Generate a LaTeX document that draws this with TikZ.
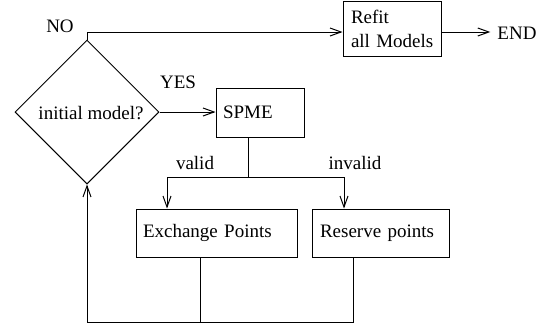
\documentclass[tikz,border=0pt]{standalone}
\usepackage{fontspec}
\setmainfont{Liberation Serif}
\usetikzlibrary{arrows.meta,shapes.geometric}
\begin{document}
\begin{tikzpicture}[x=1pt,y=-1pt,
  every node/.style={font=\fontsize{19}{24}\selectfont},
  line/.style={line width=1pt},
  arr/.style={line width=1pt,-{Straight Barb[length=11pt,width=8pt,line width=1pt]}},
  box/.style={draw,line width=1pt,align=left,inner ysep=0pt,minimum height=#1},
  lbl/.style={inner sep=0pt}]
\useasboundingbox (0,0) rectangle (543,327);
% nodes
\node[draw,line width=1pt,diamond,aspect=1,minimum width=144pt,minimum height=144pt,inner sep=0pt] (d) at (87,112) {};
\node[lbl] (dt) at (91,113) {initial model?};
\node[box=55pt,inner xsep=8pt,text width=82pt] (refit) at (392,29) {Refit\\\mbox{all Models}};
\node[box=49pt,inner xsep=7pt,text width=74pt] (spme) at (260,112.5) {SPME};
\node[box=48pt,inner xsep=7pt,text width=147pt] (ex) at (216.5,233) {Exchange Points};
\node[box=48pt,inner xsep=8pt,text width=121pt] (res) at (380.5,233) {Reserve points};
\node[inner xsep=7pt,inner ysep=0pt] (end) at (517,33) {END};
\node[lbl] (no) at (60,26) {NO};
\node[lbl] (yes) at (178,82) {YES};
\node[lbl] (valid) at (195,163) {valid};
\node[lbl] (invalid) at (355,163) {invalid};
% coordinates
\coordinate (nc) at (87,32);
\coordinate (split) at (248,177);
\coordinate (vl) at (167,177);
\coordinate (il) at (344,177);
\coordinate (exo) at (200,322);
\coordinate (reso) at (353,322);
\coordinate (back) at (87,322);
% connectors
\draw[arr] (d.north) -- (nc) -- (nc -| refit.west);
\draw[arr] (nc -| refit.east) -- (end.west |- nc);
\draw[arr] (d.east) -- (spme.west |- d.east);
\draw[line] (split |- spme.south) -- (split);
\draw[arr] (split) -- (vl) -- (vl |- ex.north);
\draw[arr] (split) -- (il) -- (il |- res.north);
\draw[line] (exo |- ex.south) -- (exo);
\draw[arr] (reso |- res.south) -- (reso) -- (back) -- (d.south);
\end{tikzpicture}
\end{document}
